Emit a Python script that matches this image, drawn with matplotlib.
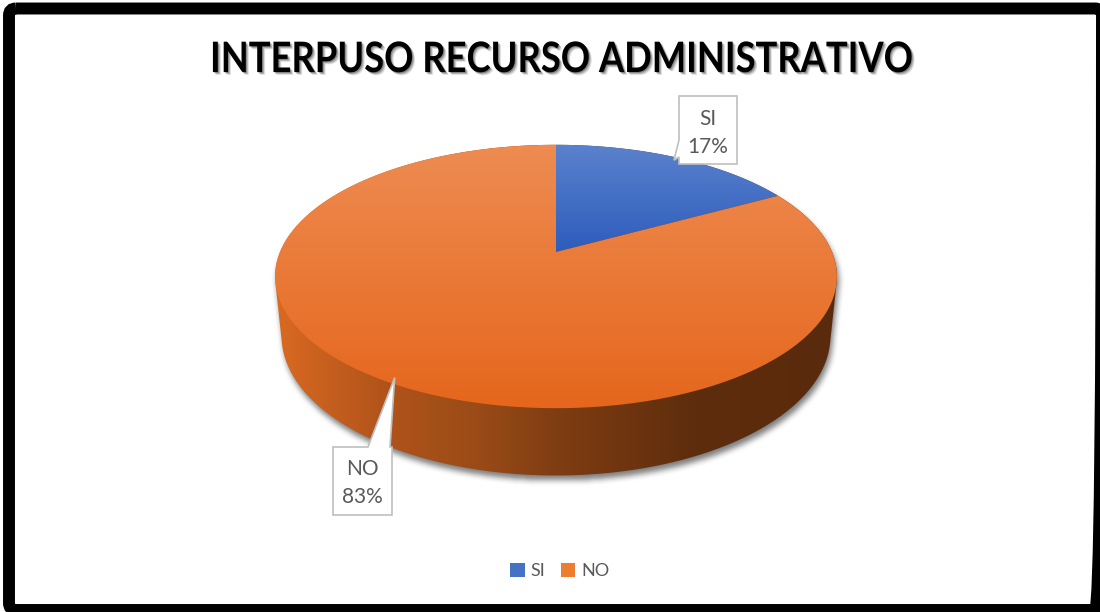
import numpy as np
import matplotlib
matplotlib.use("Agg")
import matplotlib.pyplot as plt
from matplotlib.patches import Polygon, FancyBboxPatch, Patch
from matplotlib.path import Path
from matplotlib.transforms import Affine2D
import matplotlib.patheffects as pe
from matplotlib.colors import to_rgb, to_rgba

# ---- data -------------------------------------------------------------
title = "INTERPUSO RECURSO ADMINISTRATIVO"
labels = ["SI", "NO"]
values = [17, 83]

# ---- style ------------------------------------------------------------
base_colors = {"SI": "#4472C4", "NO": "#ED7D31"}
top_grad = {"SI": ("#5B82CD", "#2D5CBC"), "NO": ("#EE8C52", "#E5661C")}
side_stops = [(0.0, "#DA6A22"), (0.2, "#B0531A"), (0.35, "#9C4C17"),
              (0.5, "#7F3D12"), (0.75, "#5E2D0D"), (1.0, "#5A2A0C")]
text_gray = "#595959"
label_font = ["Lato", "DejaVu Sans"]

W, H = 1100, 612
fig = plt.figure(figsize=(W / 100, H / 100), dpi=100)
ax = fig.add_axes([0, 0, 1, 1])
ax.set_xlim(0, W)
ax.set_ylim(H, 0)
ax.axis("off")

# ---- 3D pie projection ------------------------------------------------
CX, CY = 556, 252
RX, RY = 276, 280
PHI = np.deg2rad(27)
DIST = 4.79
THICK = 0.24


def project(X, Y, Z):
    s, c = np.sin(PHI), np.cos(PHI)
    w = 1 + (Y * c - Z * s) / DIST
    return CX + RX * X / w, CY - RY * (Y * s + Z * c) / w


def rim(t, z=0.0, r=1.0):
    return project(r * np.cos(t), r * np.sin(t), np.full_like(t, z))


def convex_hull(pts):
    pts = sorted(map(tuple, pts))
    def cross(o, a, b):
        return (a[0] - o[0]) * (b[1] - o[1]) - (a[1] - o[1]) * (b[0] - o[0])
    lower, upper = [], []
    for p in pts:
        while len(lower) >= 2 and cross(lower[-2], lower[-1], p) <= 0:
            lower.pop()
        lower.append(p)
    for p in reversed(pts):
        while len(upper) >= 2 and cross(upper[-2], upper[-1], p) <= 0:
            upper.pop()
        upper.append(p)
    return np.array(lower[:-1] + upper[:-1])


def clipped_gradient(poly_xy, stops, direction, zorder):
    poly = Polygon(poly_xy, closed=True, transform=ax.transData,
                   fc="none", ec="none")
    x0, y0 = poly_xy.min(axis=0)
    x1, y1 = poly_xy.max(axis=0)
    n = 256
    f = np.linspace(0, 1, n)
    pos = [s[0] for s in stops]
    rgb = np.array([to_rgb(s[1]) for s in stops])
    cols = np.stack([np.interp(f, pos, rgb[:, k]) for k in range(3)], axis=-1)
    img = cols[None, :, :] if direction == "x" else cols[:, None, :]
    im = ax.imshow(img, extent=(x0 - 1, x1 + 1, y0 - 1, y1 + 1), origin="lower",
                   interpolation="bilinear", aspect="auto", zorder=zorder)
    im.set_clip_path(poly)
    return im


t_full = np.linspace(0, 2 * np.pi, 720)
top_ring = np.column_stack(rim(t_full, 0.0))
bot_ring = np.column_stack(rim(t_full, -THICK))
hull = convex_hull(np.vstack([top_ring, bot_ring]))

# soft drop shadow under the pie body
gx, gy = np.meshgrid(np.arange(W) + 0.5, np.arange(H) + 0.5)
mask = Path(hull + np.array([2.0, 5.0])).contains_points(
    np.column_stack([gx.ravel(), gy.ravel()])).reshape(H, W).astype(float)


def box_blur(a, r):
    k = np.ones(2 * r + 1) / (2 * r + 1)
    a = np.apply_along_axis(lambda v: np.convolve(v, k, mode="same"), 0, a)
    a = np.apply_along_axis(lambda v: np.convolve(v, k, mode="same"), 1, a)
    return a


for _ in range(2):
    mask = box_blur(mask, 3)
shadow = np.zeros((H, W, 4))
shadow[..., :3] = 0.22
shadow[..., 3] = mask * 0.65
ax.imshow(shadow, extent=(0, W, H, 0), origin="upper", zorder=1,
          interpolation="bilinear", aspect="auto")

# pie body side wall
clipped_gradient(hull, side_stops, "x", zorder=2)

# top faces of the slices
total = float(sum(values))
start = np.pi / 2
mid_angles = {}
for lab, v in zip(labels, values):
    sweep = 2 * np.pi * v / total
    t = np.linspace(start, start - sweep, max(int(sweep * 120), 8))
    rx, ry = rim(t, 0.0)
    cx0, cy0 = project(0.0, 0.0, 0.0)
    poly_xy = np.vstack([[cx0, cy0], np.column_stack([rx, ry])])
    c_top, c_bot = top_grad[lab]
    clipped_gradient(poly_xy, [(0.0, c_top), (1.0, c_bot)], "y", zorder=3)
    mid_angles[lab] = start - sweep / 2
    start -= sweep

# ---- data labels with callouts ----------------------------------------
callouts = {
    "SI": dict(box=(679, 96, 737, 164), tail="left", base=(140, 157),
               lines=(125, 153)),
    "NO": dict(box=(333, 447, 392, 515), tail="top", base=(368, 390),
               lines=(475, 503)),
}
for lab, v in zip(labels, values):
    spec = callouts[lab]
    x0, y0, x1, y1 = spec["box"]
    tx, ty = rim(np.array([mid_angles[lab]]), 0.0, r=0.97)
    tip = (float(tx[0]), float(ty[0]))
    b0, b1 = spec["base"]
    if spec["tail"] == "left":
        pts = [(x0, y0), (x1, y0), (x1, y1), (x0, y1), (x0, b1), tip, (x0, b0)]
    else:
        pts = [(x0, y0), (b0, y0), tip, (b1, y0), (x1, y0), (x1, y1), (x0, y1)]
    ax.add_patch(Polygon(pts, closed=True, fc="white", ec="#BFBFBF", lw=1.2,
                         zorder=5))
    xc = (x0 + x1) / 2
    pct = f"{round(100 * v / total)}%"
    ax.text(xc, spec["lines"][0], lab, ha="center", va="baseline",
            fontsize=15, color=text_gray, family=label_font, zorder=6)
    ax.text(xc, spec["lines"][1], pct, ha="center", va="baseline",
            fontsize=15, color=text_gray, family=label_font, zorder=6)


# ---- title --------------------------------------------------------------
class Condensed(pe.AbstractPathEffect):
    """Draw glyph outlines narrowed horizontally about a centre line,
    optionally as an offset translucent shadow."""

    def __init__(self, sx, cx, offset=(0, 0), shadow=None, alpha=1.0):
        super().__init__()
        self.sx, self.cx = sx, cx
        self.off = offset
        self.shadow, self.alpha = shadow, alpha

    def draw_path(self, renderer, gc, tpath, affine, rgbFace=None):
        tr = affine + Affine2D().translate(-self.cx, 0).scale(self.sx, 1) \
            .translate(self.cx + self.off[0], self.off[1])
        gc0 = renderer.new_gc()
        gc0.copy_properties(gc)
        face = rgbFace
        if self.shadow is not None:
            gc0.set_foreground("none")
            gc0.set_alpha(self.alpha)
            face = to_rgba(self.shadow)
        renderer.draw_path(gc0, tpath, tr, face)
        gc0.restore()


TITLE_CX = 561
title_txt = ax.text(TITLE_CX, 72, title, ha="center", va="baseline",
                    fontsize=30.2, fontweight="bold", color="black",
                    family=["Lato", "DejaVu Sans"], zorder=6)
renderer = fig.canvas.get_renderer()
wpx = title_txt.get_window_extent(renderer).width
sx = 702 / wpx
cx_disp = ax.transData.transform((TITLE_CX, 0))[0]
title_txt.set_path_effects([
    Condensed(sx, cx_disp, offset=(3.0, -3.0), shadow="black", alpha=0.12),
    Condensed(sx, cx_disp, offset=(2.0, -2.0), shadow="black", alpha=0.2),
    Condensed(sx, cx_disp, offset=(1.0, -1.0), shadow="black", alpha=0.25),
    Condensed(sx, cx_disp),
])

# ---- legend -------------------------------------------------------------
handles = [Patch(fc=base_colors[l], ec="none") for l in labels]
ax.legend(handles, labels, loc="center",
          bbox_to_anchor=(560 / W, 1 - 571 / H), ncol=2, frameon=False,
          prop={"family": label_font, "size": 13}, labelcolor=text_gray,
          handlelength=0.78, handleheight=0.88, handletextpad=0.35,
          columnspacing=0.85, borderpad=0, borderaxespad=0)

# ---- chart border ---------------------------------------------------------
ax.add_patch(FancyBboxPatch((9, 8.5), 1093, 601.5,
                            boxstyle="round,pad=0,rounding_size=7",
                            lw=8.6, ec="black", fc="none", zorder=10,
                            clip_on=False))

ax.set_xlim(0, W)
ax.set_ylim(H, 0)
fig.savefig("out.png", dpi=100, facecolor="white")
